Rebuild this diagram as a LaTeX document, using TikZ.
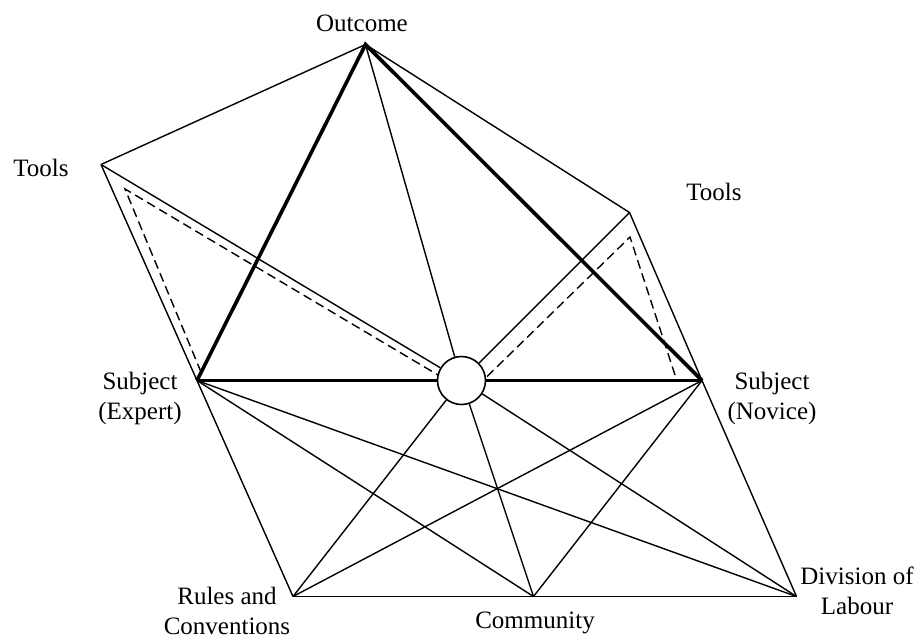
\documentclass[tikz,border=0pt]{standalone}
\usepackage{fontspec}
\setmainfont{Liberation Serif}
\begin{document}
\begin{tikzpicture}[x=1pt,y=-1pt,
  edge/.style={line width=1.4pt},
  strongedge/.style={line width=3.6pt},
  dashedge/.style={line width=1.4pt, dash pattern=on 9pt off 5pt},
  lbl/.style={font=\fontsize{25}{30}\selectfont, align=center, inner sep=0pt},
  hubstyle/.style={circle, draw, line width=1.6pt, fill=white, minimum size=48pt, inner sep=0pt}]
\useasboundingbox (0,0) rectangle (923,640);

% vertices of the two activity systems
\coordinate (out)    at (365.5,44.5);
\coordinate (ltools) at (101,164.5);
\coordinate (rtools) at (629.5,212.5);
\coordinate (expert) at (197,380.5);
\coordinate (novice) at (702,380.5);
\coordinate (rules)  at (293,596.5);
\coordinate (comm)   at (533.5,596.5);
\coordinate (div)    at (796.5,596.5);
\node[hubstyle] (hub) at (461.5,380.5) {};

% corners of the dashed mediation paths
\coordinate (ldA) at (201,372);
\coordinate (ldB) at (125,189);
\coordinate (ldC) at (438,375);
\coordinate (rdA) at (487,376.5);
\coordinate (rdB) at (630,237);
\coordinate (rdC) at (676,378);

% thin structure lines
\draw[edge] (ltools) -- (out) -- (rtools);
\draw[edge] (out) -- (hub);
\draw[edge] (ltools) -- (expert) -- (rules);
\draw[edge] (rtools) -- (novice) -- (div);
\draw[edge] (ltools) -- (hub);
\draw[edge] (rtools) -- (hub);
\draw[edge] (expert) -- (comm);
\draw[edge] (expert) -- (div);
\draw[edge] (novice) -- (rules);
\draw[edge] (novice) -- (comm);
\draw[edge] (hub) -- (rules);
\draw[edge] (hub) -- (comm);
\draw[edge] (hub) -- (div);
\draw[edge] (rules) -- (comm) -- (div);

% dashed paths
\draw[dashedge] (ldA) -- (ldB) -- (ldC);
\draw[dashedge] (rdA) -- (rdB) -- (rdC);

% thick subject-outcome triangle
\draw[strongedge] (expert) -- (out) -- (novice);
\draw[strongedge] (expert) -- (hub);
\draw[strongedge] (hub) -- (novice);

% labels
\node[lbl] (outlbl)   at (362,23)  {Outcome};
\node[lbl] (ltlbl)    at (41,168)  {Tools};
\node[lbl] (rtlbl)    at (714,192) {Tools};
\node[lbl] (exlbl)    at (140,398) {Subject\\(Expert)};
\node[lbl] (novlbl)   at (772,398) {Subject\\(Novice)};
\node[lbl] (ruleslbl) at (227,611) {Rules and\\Conventions};
\node[lbl] (commlbl)  at (535,623) {Community};
\node[lbl] (divlbl)   at (857,591) {Division of\\Labour};
\end{tikzpicture}
\end{document}
